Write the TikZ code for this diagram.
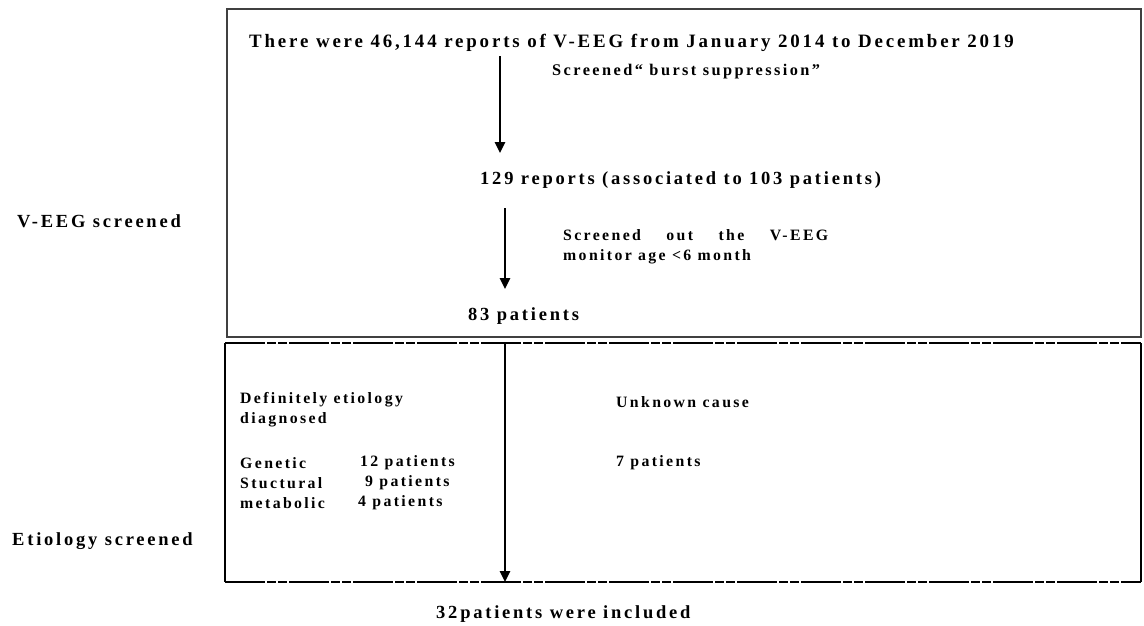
\documentclass[tikz,border=0pt]{standalone}
\usepackage{fontspec}
\setmainfont{Liberation Serif}
\newfontfamily\lsA[LetterSpace=15]{Liberation Serif}
\usetikzlibrary{arrows.meta}
\tikzset{
  txt/.style={anchor=west, inner sep=0pt, font=\lsA\bfseries\fontsize{18.5}{22}\selectfont},
  big/.style={anchor=west, inner sep=0pt, font=\lsA\bfseries\fontsize{18.9}{22}\selectfont},
  mid/.style={anchor=west, inner sep=0pt, font=\lsA\bfseries\fontsize{15.8}{20.5}\selectfont},
  flow/.style={line width=2.5pt, -{Triangle[length=11pt,width=10pt]}},
  topbox/.style={draw=black!75, line width=1.4pt},
  botside/.style={draw=black, line width=2pt},
  botedge/.style={draw=black, line width=2pt, dash pattern=on 40pt off 2pt on 9pt off 2pt on 9pt off 2pt}
}
\begin{document}
\begin{tikzpicture}[x=1pt,y=-1pt]
\useasboundingbox (0,0) rectangle (1144,625);
% boxes
\draw[topbox] (227,9) rectangle (1141,337);
\draw[botside] (225,343) -- (225,582);
\draw[botside] (1141,343) -- (1141,582);
\draw[botedge] (225,343) -- (1141,343);
\draw[botedge] (225,582) -- (1141,582);
% texts
\node[big] (t1) at (249,43) {There were 46,144 reports of V-EEG from January 2014 to December 2019};
\node[mid, font=\lsA\bfseries\fontsize{16.3}{20}\selectfont] (s1) at (552,72) {Screened“ burst suppression”};
\node[txt] (t2) at (480,180) {129 reports (associated to 103 patients)};
\node[mid, align=justify, text width=265pt, anchor=north west] (s2) at (563,229) {Screened\hfill out\hfill the\hfill V-EEG\\monitor age <6 month};
\node[txt] (t3) at (468,316) {83 patients};
\node[mid, align=left, anchor=north west] (d1) at (240,392) {Definitely etiology\\diagnosed};
\node[mid] (g1) at (240,463) {Genetic};
\node[mid] (g2) at (360,463) {12 patients};
\node[mid] (st1) at (240,483) {Stuctural};
\node[mid] (st2) at (365,483) {9 patients};
\node[mid] (m1) at (240,503) {metabolic};
\node[mid] (m2) at (358,503) {4 patients};
\node[mid] (u1) at (616,402) {Unknown cause};
\node[mid] (u2) at (616,463) {7 patients};
\node[txt] (l1) at (17,221) {V-EEG screened};
\node[txt] (l2) at (12,541) {Etiology screened};
\node[txt] (fin) at (436,614) {32patients were included};
% arrows
\coordinate (a1s) at (500,56);
\coordinate (a1e) at (500,153);
\coordinate (a2s) at (505,208);
\coordinate (a2e) at (505,289);
\coordinate (a3s) at (505,343);
\coordinate (a3e) at (505,582);
\draw[flow] (a1s) -- (a1e);
\draw[flow] (a2s) -- (a2e);
\draw[flow] (a3s) -- (a3e);
\end{tikzpicture}
\end{document}
